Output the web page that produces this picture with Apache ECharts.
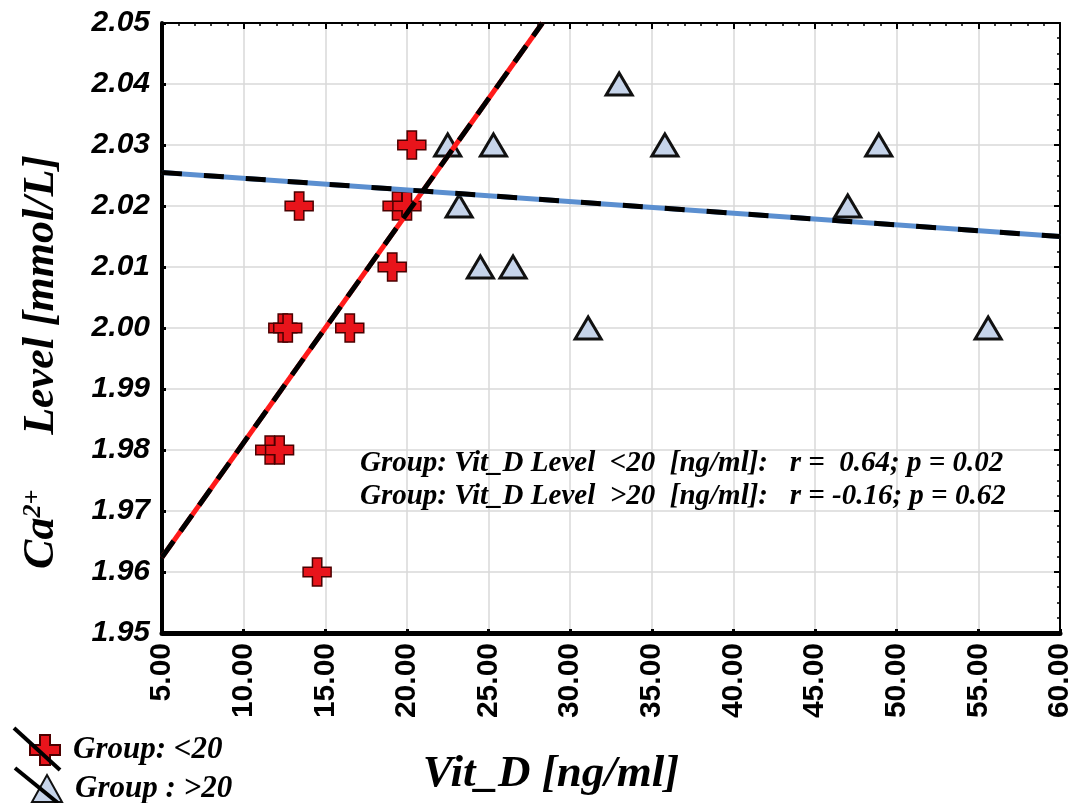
<!DOCTYPE html>
<html>
<head>
<meta charset="utf-8">
<script src="https://cdn.jsdelivr.net/npm/echarts@6/dist/echarts.min.js"></script>
<style>
html,body{margin:0;padding:0;background:#fff;}
#chart{width:1075px;height:803px;}
</style>
</head>
<body>
<div id="chart"></div>
<script>
// Group Vit_D < 20
const lowX = [20.3, 13.4, 19.4, 20.0, 19.1, 12.4, 12.7, 16.5, 11.6, 12.2, 14.5];
const lowY = [2.03, 2.02, 2.02, 2.02, 2.01, 2.00, 2.00, 2.00, 1.98, 1.98, 1.96];
// Group Vit_D > 20
const highX = [22.5, 25.3, 33.0, 35.8, 23.2, 24.5, 26.5, 31.1, 47.0, 48.9, 55.6];
const highY = [2.03, 2.03, 2.04, 2.03, 2.02, 2.01, 2.01, 2.00, 2.02, 2.03, 2.00];
// regression line end points
const lowFitX = [5, 28.3];
const lowFitY = [1.9624, 2.05];
const highFitX = [5, 60];
const highFitY = [2.0255, 2.0150];
// axes
const xMin = 5, xMax = 60, xStep = 5;
const yMin = 1.95, yMax = 2.05, yStep = 0.01;
const legendNames = ['Group: <20', 'Group : >20'];
const statLines = [
  'Group: Vit_D Level  <20  [ng/ml]:   r =  0.64; p = 0.02',
  'Group: Vit_D Level  >20  [ng/ml]:   r = -0.16; p = 0.62'
];

const zip = (a, b) => a.map((v, i) => [v, b[i]]);
const crossPath = 'path://M10,0H20V10H30V20H20V30H10V20H0V10H10Z';
const serif = 'Liberation Serif';
const legendText = {fontFamily: serif, fontStyle: 'italic', fontWeight: 'bold', fontSize: 31, color: '#000', padding: [0, 0, 0, 8]};

const chart = echarts.init(document.getElementById('chart'));
chart.setOption({
  backgroundColor: '#ffffff',
  animation: false,
  grid: {left: 162, right: 14, top: 23, bottom: 170, containLabel: false},
  legend: [{
    orient: 'vertical', left: 24, top: 729, itemWidth: 30, itemHeight: 30,
    data: [legendNames[0]], textStyle: legendText
  }, {
    orient: 'vertical', left: 26, top: 768, itemWidth: 30, itemHeight: 27,
    data: [legendNames[1]], textStyle: legendText
  }],
  xAxis: [{
    type: 'value', min: xMin, max: xMax, interval: xStep,
    axisLine: {show: true, onZero: false, lineStyle: {color: '#000', width: 5}},
    axisTick: {show: true, inside: true, length: 4, lineStyle: {color: '#000', width: 3}},
    axisLabel: {rotate: 90, margin: 10, fontFamily: 'Liberation Sans', fontWeight: 'bold', fontSize: 30, color: '#000',
      formatter: v => v.toFixed(2)},
    splitLine: {show: true, lineStyle: {color: '#d9d9d9', width: 1.5}}
  }, {
    type: 'value', position: 'top', min: xMin, max: xMax, interval: xStep,
    axisLine: {show: true, onZero: false, lineStyle: {color: '#000', width: 2}},
    axisTick: {show: true, inside: true, length: 6, lineStyle: {color: '#000', width: 2}},
    minorTick: {show: true, splitNumber: 5, length: 3, lineStyle: {color: '#000', width: 1.5}},
    axisLabel: {show: false}, splitLine: {show: false}
  }],
  yAxis: [{
    type: 'value', min: yMin, max: yMax, interval: yStep,
    axisLine: {show: true, onZero: false, lineStyle: {color: '#000', width: 4}},
    axisTick: {show: true, inside: true, length: 4, lineStyle: {color: '#000', width: 3}},
    axisLabel: {margin: 12, fontFamily: 'Liberation Sans', fontWeight: 'bold', fontStyle: 'italic', fontSize: 30, color: '#000',
      formatter: v => v.toFixed(2)},
    splitLine: {show: true, lineStyle: {color: '#d9d9d9', width: 1.5}}
  }, {
    type: 'value', position: 'right', min: yMin, max: yMax, interval: yStep,
    axisLine: {show: true, onZero: false, lineStyle: {color: '#000', width: 2}},
    axisTick: {show: true, inside: true, length: 6, lineStyle: {color: '#000', width: 2}},
    minorTick: {show: true, splitNumber: 4, length: 3, lineStyle: {color: '#000', width: 1.5}},
    axisLabel: {show: false}, splitLine: {show: false}
  }],
  series: [
    {
      name: legendNames[0], type: 'scatter', data: zip(lowX, lowY),
      symbol: crossPath, symbolSize: 28, z: 3,
      itemStyle: {color: '#e8141b', borderColor: '#4a0000', borderWidth: 1.5, opacity: 1}
    },
    {
      name: legendNames[1], type: 'scatter', data: zip(highX, highY),
      symbol: 'triangle', symbolSize: [26, 22], z: 3,
      itemStyle: {color: '#c6d4ea', borderColor: '#111', borderWidth: 3, opacity: 1}
    },
    {
      name: 'fitLow', type: 'line', data: zip(lowFitX, lowFitY), symbol: 'none', z: 5, silent: true,
      lineStyle: {color: '#ff1a1a', width: 5}
    },
    {
      name: 'fitLowDash', type: 'line', data: zip(lowFitX, lowFitY), symbol: 'none', z: 6, silent: true,
      lineStyle: {color: '#000', width: 5, type: [20, 12]}
    },
    {
      name: 'fitHigh', type: 'line', data: zip(highFitX, highFitY), symbol: 'none', z: 5, silent: true,
      lineStyle: {color: '#5b8fd0', width: 5}
    },
    {
      name: 'fitHighDash', type: 'line', data: zip(highFitX, highFitY), symbol: 'none', z: 6, silent: true,
      lineStyle: {color: '#000', width: 5, type: [20, 22]}
    }
  ],
  graphic: [
    {type: 'line', z: 100, shape: {x1: 14, y1: 728, x2: 60, y2: 770}, style: {stroke: '#000', lineWidth: 4}},
    {type: 'line', z: 100, shape: {x1: 15, y1: 768, x2: 58, y2: 803}, style: {stroke: '#000', lineWidth: 4}},
    {type: 'text', z: 50, left: 360, top: 449,
      style: {text: statLines[0], font: 'italic bold 29px "Liberation Serif"', fill: '#000'}},
    {type: 'text', z: 50, left: 360, top: 482,
      style: {text: statLines[1], font: 'italic bold 29px "Liberation Serif"', fill: '#000'}},
    {type: 'text', z: 50, x: 551, y: 774,
      style: {text: 'Vit_D [ng/ml]', font: 'italic bold 45px "Liberation Serif"', fill: '#000', align: 'center', verticalAlign: 'middle'}},
    {type: 'text', z: 50, x: 42, y: 362, rotation: Math.PI / 2,
      style: {
        text: 'Ca{sup|2+}     Level [mmol/L]',
        font: 'italic bold 44px "Liberation Serif"', fill: '#000', align: 'center', verticalAlign: 'middle',
        rich: {sup: {fontFamily: serif, fontStyle: 'italic', fontWeight: 'bold', fontSize: 26, verticalAlign: 'top', fill: '#000'}}
      }}
  ]
});
</script>
</body>
</html>
